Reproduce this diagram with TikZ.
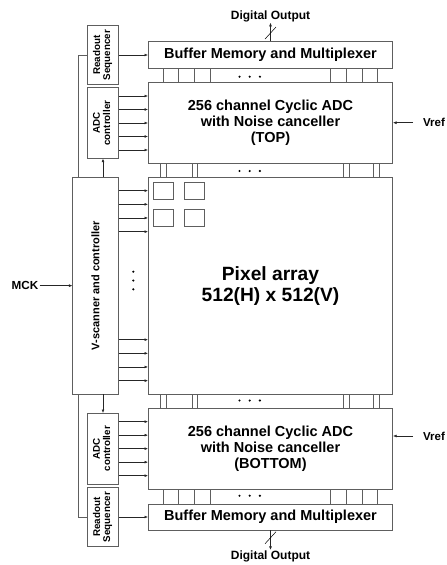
\documentclass[tikz,border=0pt]{standalone}
\usepackage{fontspec}
\setmainfont{Liberation Sans}
\usetikzlibrary{arrows.meta, positioning}
\definecolor{lineg}{HTML}{5E5E5E}
\newcommand{\vlab}[1]{\rotatebox{90}{\begin{tabular}{@{}c@{}}#1\end{tabular}}}

\begin{document}
\begin{tikzpicture}[x=1pt, y=-1pt,
    box/.style={draw=lineg, line width=0.6pt, fill=white, inner sep=0pt, align=center,
                minimum width=244.4pt, font=\bfseries\fontsize{14.5}{15.8}\selectfont},
    ctl/.style={box, minimum width=30.6pt, font=\bfseries\fontsize{9.8}{10}\selectfont},
    lbl/.style={inner sep=1pt, font=\bfseries\fontsize{12}{12}\selectfont},
    arr/.style={-{Latex[length=3.5pt, width=2.8pt]}, line width=0.5pt, black!85},
    bus/.style={draw=lineg, line width=0.5pt}]
    \useasboundingbox (0,0) rectangle (447,565);
    \node[box, minimum height=26.6pt] (bufT) at (270.5,55) {Buffer Memory and Multiplexer};
    \node[box, minimum height=80.6pt] (adcT) at (270.5,123) {256 channel Cyclic ADC\\with Noise canceller\\(TOP)};
    \node[box, minimum height=216.7pt, font=\bfseries\fontsize{19.2}{21}\selectfont] (pix) at (270.5,285.65) {Pixel array\\512(H) x 512(V)};
    \node[box, minimum height=80.7pt] (adcB) at (270.5,448.65) {256 channel Cyclic ADC\\with Noise canceller\\(BOTTOM)};
    \node[box, minimum height=26pt] (bufB) at (270.5,517) {Buffer Memory and Multiplexer};
    \node[ctl, minimum height=59.3pt] (rsT) at (103,55) {\vlab{Readout\\Sequencer}};
    \node[ctl, minimum height=70.6pt] (acT) at (103,123) {\vlab{ADC\\controller}};
    \node[box, minimum width=45.6pt, minimum height=216.7pt, font=\bfseries\fontsize{11}{12}\selectfont] (vsc) at (95.5,285.65) {\rotatebox{90}{V-scanner and controller}};
    \node[ctl, minimum height=70.7pt] (acB) at (103,448.65) {\vlab{ADC\\controller}};
    \node[ctl, minimum height=59.4pt] (rsB) at (103,517) {\vlab{Readout\\Sequencer}};
    \node[lbl] (doT) at (270.5,16) {Digital Output};
    \node[lbl] (doB) at (270.5,556.7) {Digital Output};
    \node[lbl, anchor=west, font=\bfseries\fontsize{11.5}{12}\selectfont] (vrefT) at (422,122.7) {Vref};
    \node[lbl, anchor=west, font=\bfseries\fontsize{11.5}{12}\selectfont] (vrefB) at (422,436) {Vref};
    \node[lbl, font=\bfseries\fontsize{11.7}{12}\selectfont] (mck) at (25,285.65) {MCK};
    \draw[arr] (rsT) -- (bufT);
    \draw[arr] (rsB) -- (bufB);
    \foreach \d in {-27,-13.5,0,13.5,27} {
      \draw[arr] ([yshift=\d]acT.east) -- ([yshift=\d]acT.east -| adcT.west);
      \draw[arr] ([yshift=\d]acB.east) -- ([yshift=\d]acB.east -| adcB.west);
    }
    \foreach \d in {54,67.7,81.3,95} {
      \draw[arr] ([yshift=\d]vsc.east) -- ([yshift=\d]vsc.east -| pix.west);
      \draw[arr] ([yshift=-\d]vsc.east) -- ([yshift=-\d]vsc.east -| pix.west);
    }
    \draw[bus] ([xshift=6.3]vsc.north west) |- (rsT.west);
    \draw[bus] ([xshift=6.3]vsc.south west) |- (rsB.west);
    \draw[arr] (acT.south |- vsc.north) -- (acT.south);
    \draw[arr] (acB.north |- vsc.south) -- (acB.north);
    \draw[arr] (mck) -- (vsc);
    \draw[arr, shorten <=9pt] (vrefT.west) -- (vrefT.west -| adcT.east);
    \draw[arr, shorten <=9pt] (vrefB.west) -- (vrefB.west -| adcB.east);
    \draw[arr] (bufT.north) -- coordinate[pos=0.45] (slT) (doT);
    \draw[arr] (bufB.south) -- coordinate[pos=0.38] (slB) (doB);
    \draw[line width=0.5pt] ([shift={(-5.5,6)}]slT) -- ([shift={(5.5,-6)}]slT);
    \draw[line width=0.5pt] ([shift={(-5.5,6)}]slB) -- ([shift={(5.5,-6)}]slB);
    \foreach \x in {15.7,30.7,46.7,62.4,182.7,198.4,214,229.4} {
      \draw[bus] ([xshift=\x]bufT.south west) -- ([xshift=\x]bufT.south west |- adcT.north);
      \draw[bus] ([xshift=\x]adcB.south west) -- ([xshift=\x]adcB.south west |- bufB.north);
    }
    \foreach \x in {12.4,18.4,44,49.4,195.7,201,225.7,231.7} {
      \draw[bus] ([xshift=\x]adcT.south west) -- ([xshift=\x]adcT.south west |- pix.north);
      \draw[bus] ([xshift=\x]pix.south west) -- ([xshift=\x]pix.south west |- adcB.north);
    }
    \foreach \i in {5.7,36.7}
      \foreach \j in {5.4,32.7}
        \draw[bus] ([shift={(\i,\j)}]pix.north west) rectangle ++(19.3,16.6);
    \foreach \y in {76.7,171,400.5,495.7}
      \foreach \x in {239.5,249.7,259.9}
        \fill (\x,\y) circle (1.2);
    \foreach \y in {271.7,280.5,289.3}
      \fill (133.3,\y) circle (1.2);
\end{tikzpicture}
\end{document}
